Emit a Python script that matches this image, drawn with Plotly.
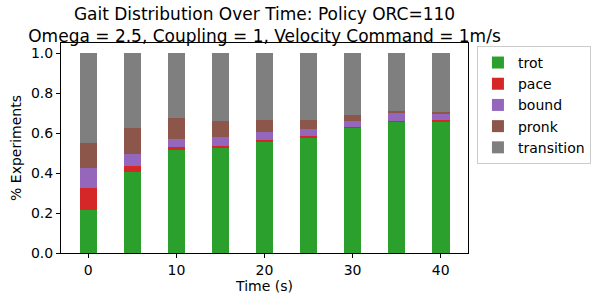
import plotly.graph_objects as go

times = [0, 5, 10, 15, 20, 25, 30, 35, 40]
trot = [0.216, 0.407, 0.514, 0.524, 0.558, 0.578, 0.625, 0.655, 0.653]
pace = [0.107, 0.027, 0.015, 0.010, 0.006, 0.005, 0.003, 0.003, 0.010]
bound = [0.101, 0.060, 0.040, 0.045, 0.041, 0.037, 0.030, 0.040, 0.035]
pronk = [0.124, 0.131, 0.106, 0.081, 0.060, 0.045, 0.030, 0.011, 0.007]
transition = [round(1 - a - b - c - d, 3) for a, b, c, d in zip(trot, pace, bound, pronk)]

series = [
    ("trot", trot, "#2ca02c"),
    ("pace", pace, "#d62728"),
    ("bound", bound, "#9467bd"),
    ("pronk", pronk, "#8c564b"),
    ("transition", transition, "#7f7f7f"),
]

fig = go.Figure()
for name, vals, col in series:
    fig.add_trace(go.Bar(x=times, y=vals, name=name, width=2,
                         marker=dict(color=col, line=dict(width=0))))

font = "DejaVu Sans, sans-serif"
fig.update_layout(
    width=595, height=298,
    barmode="stack",
    margin=dict(l=61, r=127, t=43, b=45, autoexpand=False),
    paper_bgcolor="white", plot_bgcolor="white",
    font=dict(family=font, size=14, color="black"),
    title=dict(text="Gait Distribution Over Time: Policy ORC=110<br>Omega = 2.5, Coupling = 1, Velocity Command = 1m/s",
               x=(61 + 468) / 2 / 595, xref="container", xanchor="center",
               y=1 - 20 / 298, yref="container", yanchor="top",
               font=dict(family=font, size=17, color="black")),
    xaxis=dict(range=[-3.1, 43.1], tickvals=[0, 10, 20, 30, 40],
               showline=True, linecolor="black", linewidth=1, mirror=True,
               ticks="outside", ticklen=4, tickcolor="black", showgrid=False,
               zeroline=False,
               title=dict(text="Time (s)", font=dict(size=14), standoff=4)),
    yaxis=dict(range=[0, 1.05], tickvals=[0, 0.2, 0.4, 0.6, 0.8, 1.0],
               ticktext=["0.0", "0.2", "0.4", "0.6", "0.8", "1.0"],
               showline=True, linecolor="black", linewidth=1, mirror=True,
               ticks="outside", ticklen=4, tickcolor="black", showgrid=False,
               zeroline=False,
               title=dict(text="% Experiments", font=dict(size=14), standoff=6)),
    legend=dict(x=1.022, y=0.986, xanchor="left", yanchor="top",
                traceorder="normal", bordercolor="#cccccc", borderwidth=1,
                font=dict(size=14), tracegroupgap=0, itemwidth=30),
    showlegend=True,
)

fig.write_html("out.html", config={"displayModeBar": False},
               post_script="document.body.style.margin='0';")
